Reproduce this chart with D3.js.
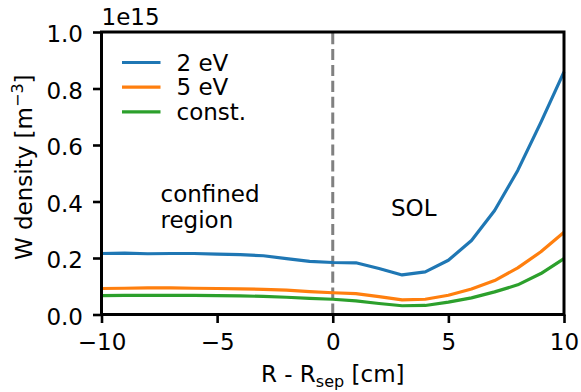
<!DOCTYPE html>
<html lang="en">
<head>
    <meta charset="UTF-8">
    <title>W density profile</title>
    <script src="https://d3js.org/d3.v7.min.js"></script>
    <style>
        body { margin: 0; background: white; }
        svg { display: block; font-family: "DejaVu Sans", sans-serif; }
        .tick text { font-size: 23px; fill: black; }
        .lbl { font-size: 23px; fill: black; }
    </style>
</head>
<body>
<svg width="581" height="392"></svg>
<script>
    // values in units of 1e15 m^-3
    const rPos = [-10, -9, -8, -7, -6, -5, -4, -3, -2, -1, 0, 1, 2, 3, 4, 5, 6, 7, 8, 9, 10];
    const dens2eV = [0.216, 0.217, 0.215, 0.216, 0.216, 0.214, 0.212, 0.208, 0.198, 0.188, 0.184,
                     0.183, 0.163, 0.140, 0.151, 0.192, 0.262, 0.368, 0.510, 0.680, 0.859];
    const dens5eV = [0.092, 0.093, 0.094, 0.094, 0.093, 0.092, 0.091, 0.089, 0.086, 0.081, 0.077,
                     0.074, 0.063, 0.052, 0.054, 0.068, 0.090, 0.120, 0.165, 0.222, 0.291];
    const densConst = [0.067, 0.068, 0.068, 0.068, 0.068, 0.067, 0.066, 0.064, 0.061, 0.057, 0.054,
                       0.048, 0.039, 0.031, 0.032, 0.044, 0.059, 0.080, 0.105, 0.145, 0.198];
    const seriesNames = ["2 eV", "5 eV", "const."];
    const xTicks = [-10, -5, 0, 5, 10];
    const yTicks = [0.0, 0.2, 0.4, 0.6, 0.8, 1.0];

    const colors = ["#1f77b4", "#ff7f0e", "#2ca02c"];
    const allSeries = [dens2eV, dens5eV, densConst];

    const svg = d3.select("svg");
    const mLeft = 101.5, mRight = 564, mTop = 32, mBottom = 314.5;

    const x = d3.scaleLinear().domain([-10, 10]).range([mLeft, mRight]);
    const y = d3.scaleLinear().domain([0, 1]).range([mBottom, mTop]);

    // separatrix (dash pattern starts at the bottom, like axvline)
    svg.append("line")
        .attr("x1", x(0)).attr("x2", x(0))
        .attr("y1", mBottom).attr("y2", mTop)
        .attr("stroke", "#808080")
        .attr("stroke-width", 3)
        .attr("stroke-dasharray", "11.1,4.8");

    const line = d3.line()
        .x((d, i) => x(rPos[i]))
        .y(d => y(d));

    svg.selectAll(".series")
        .data(allSeries)
        .enter().append("path")
        .attr("class", "series")
        .attr("d", d => line(d))
        .attr("fill", "none")
        .attr("stroke", (d, i) => colors[i])
        .attr("stroke-width", 3.2)
        .attr("stroke-linejoin", "round");

    // axes
    const xAxis = svg.append("g")
        .attr("transform", `translate(0,${mBottom})`)
        .call(d3.axisBottom(x).tickValues(xTicks).tickSize(8.5).tickPadding(6).tickFormat(d3.format("d")));
    const yAxis = svg.append("g")
        .attr("transform", `translate(${mLeft},0)`)
        .call(d3.axisLeft(y).tickValues(yTicks).tickSize(8.5).tickPadding(10).tickFormat(d3.format(".1f")));

    [xAxis, yAxis].forEach(a => {
        a.select(".domain").remove();
        a.selectAll(".tick line").attr("stroke", "black").attr("stroke-width", 2.6);
        a.attr("font-family", null).attr("font-size", null);
    });
    xAxis.selectAll(".tick text").attr("dy", "0.92em");
    yAxis.selectAll(".tick text").attr("dy", "0.42em");

    // frame
    svg.append("rect")
        .attr("x", mLeft).attr("y", mTop)
        .attr("width", mRight - mLeft).attr("height", mBottom - mTop)
        .attr("fill", "none")
        .attr("stroke", "black")
        .attr("stroke-width", 3);

    // offset text
    svg.append("text").attr("class", "lbl")
        .attr("x", mLeft).attr("y", 25)
        .text("1e15");

    // axis labels
    const xl = svg.append("text").attr("class", "lbl")
        .attr("x", (mLeft + mRight) / 2).attr("y", 382)
        .attr("text-anchor", "middle");
    xl.append("tspan").text("R - R");
    xl.append("tspan").attr("dy", 5).attr("font-size", "16px").text("sep");
    xl.append("tspan").attr("dy", -5).text(" [cm]");

    const yl = svg.append("text").attr("class", "lbl")
        .attr("transform", `translate(32,${(mTop + mBottom) / 2 - 6}) rotate(-90)`)
        .attr("text-anchor", "middle");
    yl.append("tspan").text("W density [m");
    yl.append("tspan").attr("dy", -9).attr("font-size", "16px").text("−3");
    yl.append("tspan").attr("dy", 9).text("]");

    // region annotations
    svg.append("text").attr("class", "lbl").attr("x", 160.5).attr("y", 201.5).text("confined");
    svg.append("text").attr("class", "lbl").attr("x", 160.5).attr("y", 228).text("region");
    svg.append("text").attr("class", "lbl").attr("x", 391).attr("y", 216).text("SOL");

    // legend
    const legend = svg.append("g");
    seriesNames.forEach((name, i) => {
        const ly = 62.5 + i * 24.7;
        legend.append("line")
            .attr("x1", 122).attr("x2", 160.5)
            .attr("y1", ly).attr("y2", ly)
            .attr("stroke", colors[i])
            .attr("stroke-width", 3.2);
        legend.append("text").attr("class", "lbl")
            .attr("x", 176.5).attr("y", ly + 8.2)
            .text(name);
    });
</script>
</body>
</html>
